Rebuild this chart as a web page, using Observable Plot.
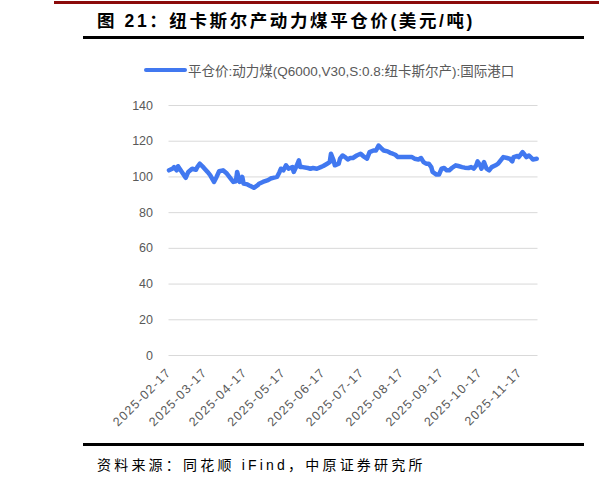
<!DOCTYPE html>
<html>
<head>
<meta charset="utf-8">
<script src="https://cdn.jsdelivr.net/npm/d3@7"></script>
<script src="https://cdn.jsdelivr.net/npm/@observablehq/plot@0.6"></script>
<style>
  html, body { margin: 0; padding: 0; background: #fff; }
  #wrap { position: relative; width: 599px; height: 483px; overflow: hidden;
          font-family: "Liberation Sans", Arial, "Noto Sans CJK SC", sans-serif; }
  #redline { position: absolute; left: 54px; top: 1px; width: 545px; height: 3px; background: #8B0A0A; }
  #title { position: absolute; left: 97px; top: 9px; font-size: 17.5px; font-weight: bold; color: #000;
           letter-spacing: 2.6px; white-space: nowrap; line-height: 24px;
           font-family: "Liberation Sans", Arial, "Noto Sans CJK SC", sans-serif; }
  #topline { position: absolute; left: 83px; top: 36px; width: 501px; height: 3px; background: #000; }
  #legend { position: absolute; left: 144px; top: 61px; height: 18px; display: flex; align-items: center; white-space: nowrap; }
  #legend .sw { width: 43px; height: 4.5px; border-radius: 2px; background: #4178F0; margin-right: 1px; }
  #legend .lt { font-size: 13.5px; color: #595959; }
  #chart { position: absolute; left: 0; top: 90px; }
  #botline { position: absolute; left: 83px; top: 443px; width: 501px; height: 3px; background: #000; }
  #source { position: absolute; left: 97px; top: 455px; font-size: 14px; color: #000; letter-spacing: 3.2px;
            white-space: nowrap; line-height: 20px; }
</style>
</head>
<body>
<div id="wrap">
  <div id="redline"></div>
  <div id="title">图 21：纽卡斯尔产动力煤平仓价(美元/吨)</div>
  <div id="topline"></div>
  <div id="legend"><div class="sw"></div><span class="lt">平仓价:动力煤(Q6000,V30,S:0.8:纽卡斯尔产):国际港口</span></div>
  <div id="chart"></div>
  <div id="botline"></div>
  <div id="source">资料来源：同花顺 iFind，中原证券研究所</div>
</div>
<script>
const dates = [
  "2025-02-17","2025-02-20","2025-02-21","2025-02-23","2025-02-24","2025-02-27",
  "2025-03-02","2025-03-04","2025-03-07","2025-03-10","2025-03-11","2025-03-13","2025-03-16","2025-03-19","2025-03-21","2025-03-24","2025-03-26","2025-03-28","2025-03-31",
  "2025-04-03","2025-04-06","2025-04-08","2025-04-10","2025-04-11","2025-04-13","2025-04-15","2025-04-16","2025-04-19","2025-04-21","2025-04-24","2025-04-27","2025-04-28",
  "2025-05-01","2025-05-05","2025-05-07","2025-05-09","2025-05-12","2025-05-14","2025-05-15","2025-05-17","2025-05-19","2025-05-21","2025-05-24","2025-05-25","2025-05-28","2025-05-29","2025-05-30",
  "2025-06-01","2025-06-05","2025-06-07","2025-06-09","2025-06-12","2025-06-15","2025-06-17","2025-06-20","2025-06-22","2025-06-23","2025-06-25","2025-06-26","2025-06-29","2025-06-30",
  "2025-07-02","2025-07-04","2025-07-06","2025-07-08","2025-07-10","2025-07-13","2025-07-16","2025-07-18","2025-07-21","2025-07-23","2025-07-26","2025-07-28","2025-07-30",
  "2025-08-01","2025-08-03","2025-08-06","2025-08-08","2025-08-10","2025-08-12","2025-08-14","2025-08-17","2025-08-20","2025-08-22","2025-08-25","2025-08-27","2025-08-30",
  "2025-09-01","2025-09-03","2025-09-05","2025-09-07","2025-09-09","2025-09-10","2025-09-13","2025-09-15","2025-09-17","2025-09-19","2025-09-21","2025-09-23","2025-09-25","2025-09-28","2025-09-30",
  "2025-10-03","2025-10-05","2025-10-08","2025-10-10","2025-10-12","2025-10-14","2025-10-15","2025-10-17","2025-10-18","2025-10-20","2025-10-22","2025-10-24","2025-10-26","2025-10-29","2025-10-31",
  "2025-11-02","2025-11-04","2025-11-07","2025-11-09","2025-11-11","2025-11-12","2025-11-15","2025-11-16","2025-11-19","2025-11-20","2025-11-22","2025-11-24","2025-11-26","2025-11-27","2025-11-30"
];
const prices = [
  103.7,104.7,105.5,103.7,106,102.8,
  99.5,102.8,104.6,104,105.5,107.4,105.2,102.8,101,97.2,100,103.2,103.7,
  101.9,99.1,97.2,97.6,102.8,97.2,100,96.3,95.8,95,93.9,95.4,96.2,
  97.2,98.2,99.1,99.5,100,102.8,104.6,103.7,106.5,104.6,105.5,102.8,107.4,109.3,105.5,
  105.5,105,104.6,105,104.6,105.5,106.1,107.4,108.3,113,109.3,106.5,107.4,110.2,
  112,111.1,109.8,110.6,110.6,112,113,111.7,110.2,113.9,114.8,114.8,117.6,
  116.1,114.8,114.3,113.5,113,112.4,111.1,111.1,111.1,111.1,111.1,110.2,109.8,
  110.6,108.3,107.4,107.4,105.5,102.8,101.3,101.3,104.6,105,103.7,103.7,105,106.5,106.1,
  105.5,105.2,105,105.5,104.6,106.5,108.7,106.5,104.6,108.3,104.6,103.7,105.5,106.5,107.4,
  109.3,111.1,110.6,110.2,108.7,111.1,111.7,111.1,113.9,113,111.1,112,110.6,109.8,110.2
];
const xTickLabels = ["2025-02-17","2025-03-17","2025-04-17","2025-05-17","2025-06-17","2025-07-17","2025-08-17","2025-09-17","2025-10-17","2025-11-17"];
const yTicks = [0, 20, 40, 60, 80, 100, 120, 140];
const xDomain = ["2025-02-17", "2025-12-01"];

const parse = d3.utcParse("%Y-%m-%d");
const data = dates.map((d, i) => ({date: parse(d), value: prices[i]}));

const chart = Plot.plot({
  width: 599,
  height: 350,
  marginLeft: 168.5,
  marginRight: 61.5,
  marginTop: 15,
  marginBottom: 85,
  style: {fontFamily: "'Liberation Sans', Arial, sans-serif", background: "transparent"},
  x: {type: "utc", domain: xDomain.map(parse)},
  y: {domain: [0, 140]},
  marks: [
    Plot.gridY(yTicks, {stroke: "#d9d9d9", strokeOpacity: 1, strokeWidth: 1}),
    Plot.axisY(yTicks, {tickSize: 0, tickPadding: 16, fontSize: 12.5, fill: "#595959", label: null}),
    Plot.axisX(xTickLabels.map(parse), {
      tickSize: 0, tickPadding: 15, tickRotate: -45, fontSize: 12.5, fill: "#595959",
      tickFormat: d3.utcFormat("%Y-%m-%d"), label: null
    }),
    Plot.lineY(data, {x: "date", y: "value", stroke: "#4178F0", strokeWidth: 4.5,
                      strokeLinejoin: "round", strokeLinecap: "round"})
  ]
});
chart.querySelectorAll('[aria-label="x-axis tick label"] text').forEach(t => t.setAttribute("letter-spacing", "1.2"));
document.getElementById("chart").appendChild(chart);
</script>
</body>
</html>
